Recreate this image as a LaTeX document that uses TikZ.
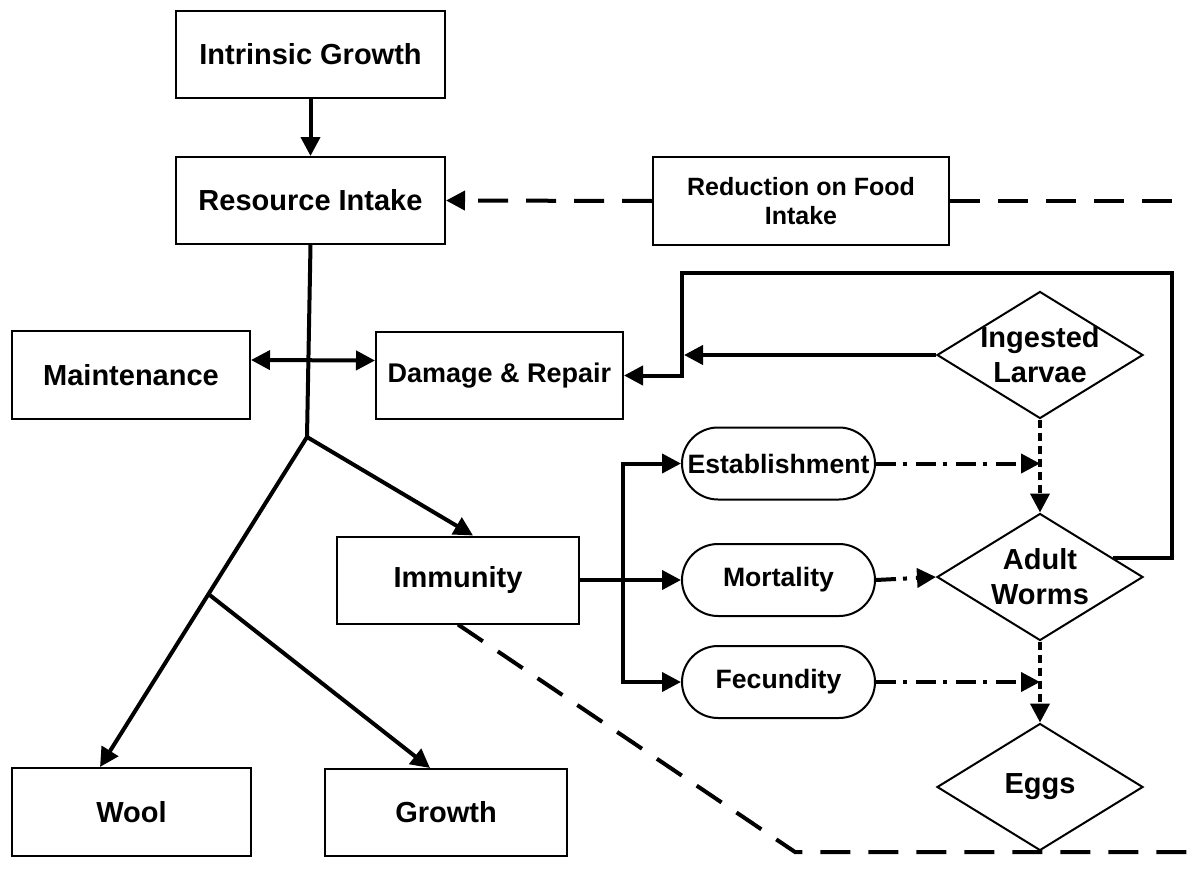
\documentclass[tikz,border=0pt]{standalone}
\usepackage{fontspec}
\setmainfont{Liberation Sans}
\usetikzlibrary{arrows.meta,shapes.geometric,calc}
\begin{document}
\begin{tikzpicture}[x=1pt,y=-1pt,
  >={Triangle[length=19pt,width=19pt]},
  box/.style={draw, line width=2pt, minimum height=87pt, inner sep=0pt, align=center,
              font=\bfseries\fontsize{29}{34}\selectfont},
  stad/.style={draw, line width=2pt, rounded corners=36pt, minimum width=193pt,
               minimum height=72pt, inner sep=0pt, font=\bfseries\fontsize{26.6}{31}\selectfont},
  dia/.style={draw, shape=diamond, line width=2pt, minimum width=206pt, minimum height=127pt, inner sep=0pt},
  dtext/.style={align=center, inner sep=0pt, font=\bfseries\fontsize{29}{35}\selectfont},
  ln/.style={line width=4pt},
  arr/.style={line width=4pt, ->},
  dsh/.style={line width=4pt, dash pattern=on 30pt off 18pt},
  dots/.style={line width=4pt, dash pattern=on 8pt off 5pt},
  dd/.style={line width=4pt, dash pattern=on 20pt off 7pt on 4pt off 9pt}
]
\useasboundingbox[fill=white] (0,0) rectangle (1187,881);

% boxes
\node[box, minimum width=269pt] (ig) at (310.5,54.5) {Intrinsic Growth};
\node[box, minimum width=269pt] (ri) at (310.5,200.5) {Resource Intake};
\node[box, minimum width=296pt, minimum height=88pt, font=\bfseries\fontsize{25}{29}\selectfont] (red) at (801,201) {Reduction on Food\\Intake};
\node[box, minimum width=238pt, minimum height=88pt] (mt) at (131,375) {Maintenance};
\node[box, minimum width=247pt, font=\bfseries\fontsize{27}{32}\selectfont] (dr) at (499.5,375.5) {Damage \& Repair};
\node[box, minimum width=242pt] (im) at (458,580) {Immunity};
\node[box, minimum width=239pt, minimum height=88pt] (wo) at (131.5,812) {Wool};
\node[box, minimum width=242pt] (gr) at (446,812.5) {Growth};

% stadium nodes
\node[stad] (es) at (778.5,463.5) {Establishment};
\node[stad] (mo) at (778.5,580) {Mortality};
\node[stad] (fe) at (778.5,682) {Fecundity};

% diamonds
\node[dia] (il) at (1040,355) {};
\node[dia] (aw) at (1040,577) {};
\node[dia] (eg) at (1040,787) {};
\node[dtext] (ilt) at (il) {Ingested\\Larvae};
\node[dtext] (awt) at (aw) {Adult\\Worms};
\node[dtext] (egt) at (eg) {Eggs};

% top arrow
\draw[arr] (ig.south) -- (ri.north);

% resource branches
\coordinate (b1) at (307,437);
\draw[ln] (ri.south) -- (b1);
\draw[arr] (b1) -- ([xshift=15pt]im.north);
\coordinate (wt) at ([xshift=-31.5pt]wo.north);
\draw[arr] (b1) -- (wt);
\coordinate (b2) at ($(b1)!0.476!(wt)$);
\draw[arr] (b2) -- ([xshift=-16pt]gr.north);

% maintenance <-> damage
\draw[ln, <->] ([yshift=15pt]mt.east) -- ([yshift=15pt]dr.west);

% immunity to outcomes
\coordinate (tr) at (623,580);
\draw[arr] (im.east) -- (mo.west);
\draw[ln, <->] (es.west) -| (tr) |- (fe.west);

% loop from adult worms to damage & repair
\coordinate (lr) at (1172,273);
\coordinate (ll) at (682,273);
\draw[arr] (aw.15) -| (lr) -- (ll) |- (dr.east);
\coordinate (lj) at (684,355);
\draw[arr] (il.west) -- (il.west -| lj);

% dotted flow
\draw[dots, ->] (il.south) -- (aw.north);
\draw[dots, ->] (aw.south) -- (eg.north);

% dash-dot effects
\draw[dd, ->] (es.east) -- (es.east -| il.south);
\draw[dd, ->] (mo.east) -- (aw.west);
\draw[dd, ->] (fe.east) -- (fe.east -| aw.south);

% dashed feedback lines
\draw[dsh, ->] (red.west) -- (ri.east);
\coordinate (re) at (1187,201);
\draw[dsh] (red.east) -- (re);
\coordinate (bc) at (795,852);
\coordinate (be) at (1187,852);
\draw[dsh] (im.south) -- (bc) -- (be);
\end{tikzpicture}
\end{document}
